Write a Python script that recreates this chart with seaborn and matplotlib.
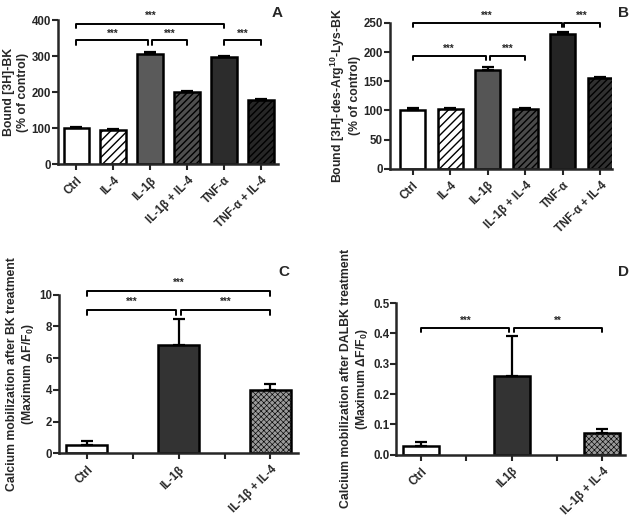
import matplotlib
matplotlib.use('Agg')
import matplotlib.pyplot as plt
from matplotlib.ticker import FormatStrFormatter
import seaborn as sns

# Panel A: bound [3H]-BK (% of control)
cats_a = ['Ctrl', 'IL-4', 'IL-1β', 'IL-1β + IL-4', 'TNF-α', 'TNF-α + IL-4']
vals_a = [100, 95, 305, 200, 297, 177]
err_a = [2, 2, 6, 4, 4, 4]

# Panel B: bound [3H]-des-Arg10-Lys-BK (% of control)
cats_b = ['Ctrl', 'IL-4', 'IL-1β', 'IL-1β + IL-4', 'TNF-α', 'TNF-α + IL-4']
vals_b = [100, 102, 170, 102, 230, 156]
err_b = [4, 2, 4, 3, 5, 2]

# Panel C: calcium mobilization after BK
cats_c = ['Ctrl', 'IL-1β', 'IL-1β + IL-4']
vals_c = [0.55, 6.8, 4.0]
err_c = [0.2, 1.65, 0.4]

# Panel D: calcium mobilization after DALBK
cats_d = ['Ctrl', 'IL1β', 'IL-1β + IL-4']
vals_d = [0.03, 0.26, 0.072]
err_d = [0.013, 0.13, 0.012]

sns.set_style('ticks')
plt.rcParams['font.family'] = ['Liberation Sans', 'DejaVu Sans']
plt.rcParams['font.weight'] = 'bold'
plt.rcParams['axes.labelweight'] = 'bold'
plt.rcParams['mathtext.fontset'] = 'custom'
plt.rcParams['mathtext.rm'] = 'Liberation Sans:bold'
plt.rcParams['mathtext.it'] = 'Liberation Sans:bold'
plt.rcParams['mathtext.bf'] = 'Liberation Sans:bold'
plt.rcParams['hatch.linewidth'] = 1.0

fig = plt.figure(figsize=(6.3, 5.18), dpi=100)
ax_a = fig.add_axes([0.092, 0.683, 0.349, 0.278])
ax_b = fig.add_axes([0.619, 0.674, 0.352, 0.282])
ax_c = fig.add_axes([0.094, 0.125, 0.379, 0.306])
ax_d = fig.add_axes([0.629, 0.122, 0.363, 0.293])


def draw_bars(ax, cats, vals, errs, colors, hatches, width, order=None,
              fine_hatch=False):
    sns.barplot(x=cats, y=vals, hue=cats, hue_order=cats, order=order,
                palette=dict(zip(cats, colors)), legend=False, ax=ax,
                width=width, edgecolor='black', linewidth=1.8, errorbar=None)
    xs = []
    for p, h in zip(ax.patches, hatches):
        p.set_hatch(h)
        if fine_hatch and h and hasattr(p, 'set_hatch_linewidth'):
            p.set_hatch_linewidth(0.45)
        xs.append(p.get_x() + p.get_width() / 2)
    ax.errorbar(xs, vals, yerr=[[0] * len(errs), errs], fmt='none',
                ecolor='black', elinewidth=1.6, capsize=4, capthick=1.6,
                zorder=1)
    for lbl in ax.get_xticklabels():
        lbl.set_rotation(45)
        lbl.set_ha('right')
        lbl.set_rotation_mode('anchor')
        lbl.set_fontsize(8.3)
        lbl.set_fontweight('bold')
    ax.tick_params(axis='y', labelsize=8.3, width=1.5, length=4, pad=1)
    ax.tick_params(axis='x', width=1.5, length=4)
    for s in ['left', 'bottom']:
        ax.spines[s].set_linewidth(1.8)
    sns.despine(ax=ax)
    ax.set_xlabel('')


def bracket(ax, x1, x2, y, drop, text, toff):
    ax.plot([x1, x1, x2, x2], [y - drop, y, y, y - drop], color='black',
            lw=1.4, clip_on=False)
    ax.text((x1 + x2) / 2, y + toff, text, ha='center', va='bottom',
            fontsize=7, fontweight='bold', clip_on=False)


# Panel A
draw_bars(ax_a, cats_a, vals_a, err_a,
          ['white', 'white', '#5a5a5a', '#4f4f4f', '#2c2c2c', '#262626'],
          ['', '////', '', '/////', '', '/////'], 0.7)
ax_a.set_xlim(-0.5, 5.45)
ax_a.set_ylim(0, 400)
ax_a.set_yticks([0, 100, 200, 300, 400])
ax_a.set_ylabel('Bound [3H]-BK\n(% of control)', fontsize=8.8, labelpad=2)
bracket(ax_a, 0, 4, 390, 12, '***', 8)
bracket(ax_a, 0, 1.95, 344, 12, '***', 4)
bracket(ax_a, 2.05, 3, 344, 12, '***', 4)
bracket(ax_a, 4, 5, 344, 12, '***', 4)

# Panel B
draw_bars(ax_b, cats_b, vals_b, err_b,
          ['white', 'white', '#555555', '#4a4a4a', '#242424', '#303030'],
          ['', '////', '', '/////', '', '/////'], 0.67)
ax_b.set_xlim(-0.6, 5.3)
ax_b.set_ylim(0, 250)
ax_b.set_yticks([0, 50, 100, 150, 200, 250])
ax_b.set_ylabel('Bound [3H]-des-Arg$^{10}$-Lys-BK\n(% of control)',
                fontsize=8.8, labelpad=2)
bracket(ax_b, 0, 3.97, 250, 7, '***', 4)
bracket(ax_b, 4.03, 5, 250, 7, '***', 4)
bracket(ax_b, 0, 1.95, 193, 7, '***', 4)
bracket(ax_b, 2.05, 3, 193, 7, '***', 4)

# Panel C
order_c = ['Ctrl', ' ', 'IL-1β', '  ', 'IL-1β + IL-4']
draw_bars(ax_c, cats_c, vals_c, err_c, ['white', '#333333', '#9a9a9a'],
          ['', '', 'xxxxxx'], 0.9, order=order_c, fine_hatch=True)
ax_c.set_xlim(-0.6, 4.6)
ax_c.set_ylim(0, 10)
ax_c.set_yticks([0, 2, 4, 6, 8, 10])
ax_c.set_ylabel('Calcium mobilization after BK treatment\n(Maximum ΔF/F$_0$)',
                fontsize=8.8, labelpad=2)
bracket(ax_c, 0, 4, 10.25, 0.3, '***', 0.2)
bracket(ax_c, 0, 1.95, 9.05, 0.3, '***', 0.2)
bracket(ax_c, 2.05, 4, 9.05, 0.3, '***', 0.2)

# Panel D
order_d = ['Ctrl', ' ', 'IL1β', '  ', 'IL-1β + IL-4']
draw_bars(ax_d, cats_d, vals_d, err_d, ['white', '#333333', '#9a9a9a'],
          ['', '', 'xxxxxx'], 0.8, order=order_d, fine_hatch=True)
ax_d.set_xlim(-0.55, 4.5)
ax_d.set_ylim(0, 0.5)
ax_d.set_yticks([0, 0.1, 0.2, 0.3, 0.4, 0.5])
ax_d.yaxis.set_major_formatter(FormatStrFormatter('%.1f'))
ax_d.set_ylabel('Calcium mobilization after DALBK treatment\n(Maximum ΔF/F$_0$)',
                fontsize=8.8, labelpad=2)
bracket(ax_d, 0, 1.95, 0.418, 0.015, '***', 0.008)
bracket(ax_d, 2.05, 4, 0.418, 0.015, '**', 0.008)

# panel letters
for x, y, t in [(0.44, 0.975, 'A'), (0.99, 0.975, 'B'),
                (0.45, 0.475, 'C'), (0.99, 0.475, 'D')]:
    fig.text(x, y, t, fontsize=11, fontweight='bold', ha='center', va='center')

fig.savefig('out.png', dpi=100)
